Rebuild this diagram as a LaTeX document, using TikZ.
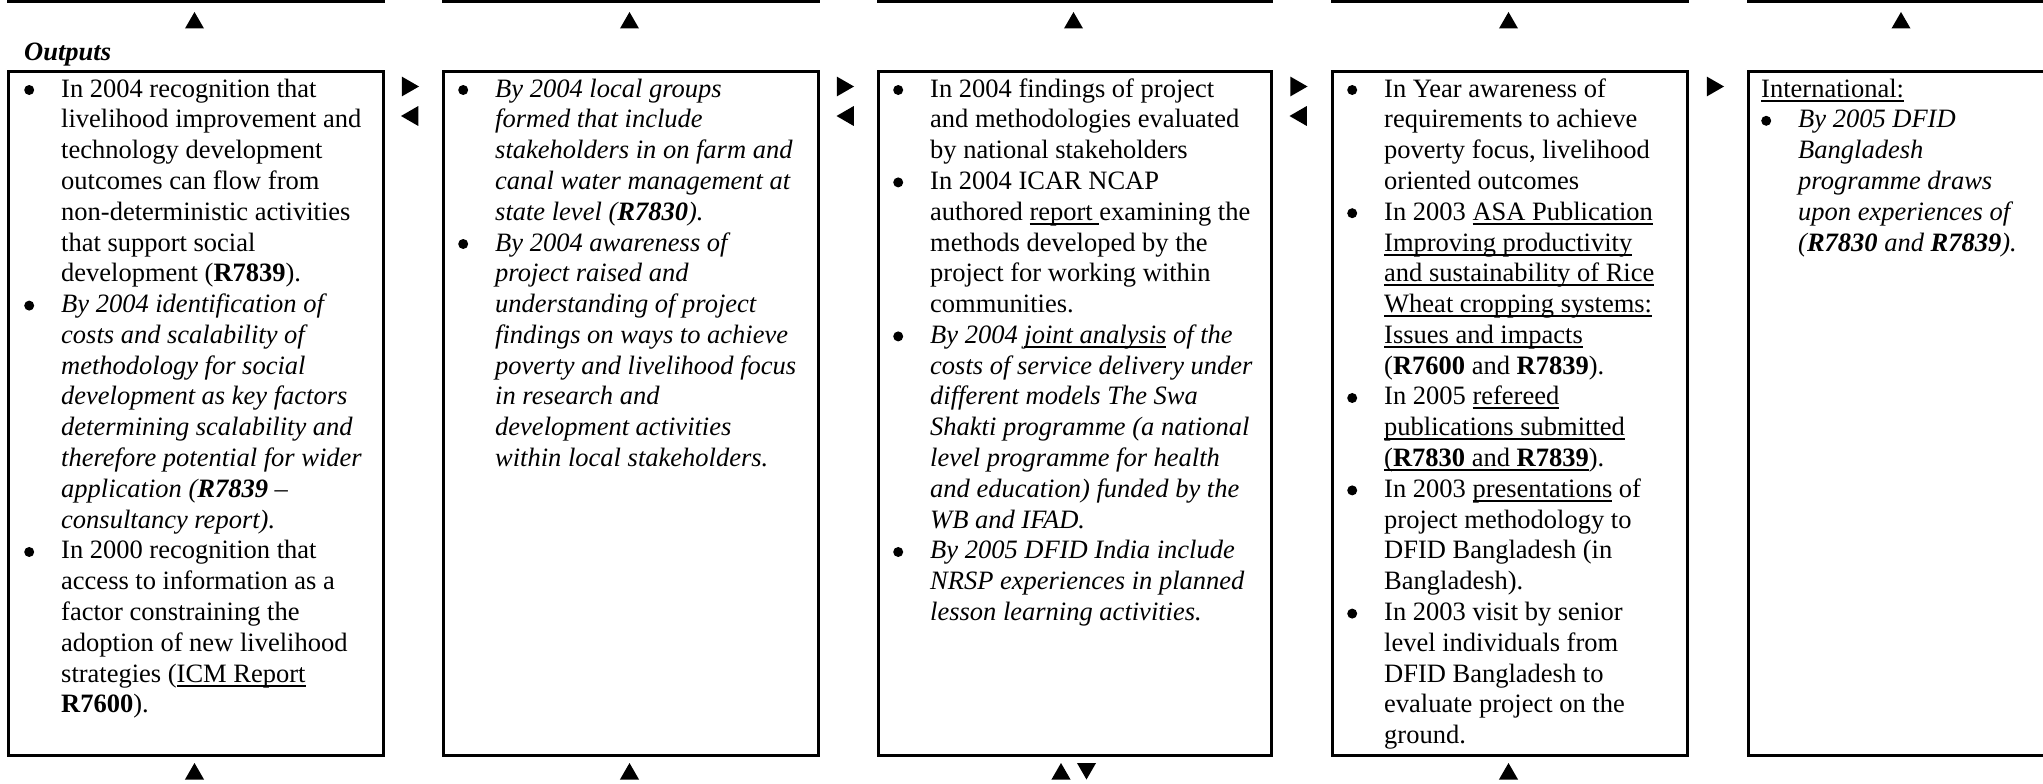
\documentclass[tikz,border=0pt]{standalone}
\usepackage{fontspec}
\setmainfont{Liberation Serif}
\usepackage{tikz}
\usetikzlibrary{shapes.geometric, positioning}
\tikzstyle{outbox} = [draw, line width=3pt, anchor=north west, minimum height=684pt, inner sep=0pt]
\tikzstyle{topbox} = [draw, line width=3pt, anchor=south west, minimum height=60pt, inner sep=0pt]
\tikzstyle{txt} = [anchor=base west, inner sep=0pt, font=\fontsize{26.5}{30.8}\selectfont]
\tikzstyle{tri} = [regular polygon, regular polygon sides=3, fill, inner sep=0pt, minimum size=22pt]
\tikzstyle{tdown} = [tri, shape border rotate=180]
\tikzstyle{tright} = [tri, minimum size=23pt, shape border rotate=-90]
\tikzstyle{tleft} = [tri, minimum size=23pt, shape border rotate=90]
\newcommand{\bul}{\tikz[x=1pt, y=1pt, baseline=0pt] \fill (5,7) circle (5);}
\newcommand{\undl}[1]{{\setbox0=\hbox{#1}\rlap{\vrule height -2.5pt depth 4.5pt width \wd0}\box0}}

\begin{document}
\begin{tikzpicture}[x=1pt, y=-1pt]
			\useasboundingbox (0,0) rectangle (2043,784);
			\clip (0,0) rectangle (2043,784);

			% boxes above (cut off)
			\node [topbox, minimum width=375pt] (prev1) at (7,3) {};
			\node [topbox, minimum width=375pt] (prev2) at (442,3) {};
			\node [topbox, minimum width=393pt] (prev3) at (877,3) {};
			\node [topbox, minimum width=355pt] (prev4) at (1331,3) {};
			\node [topbox, minimum width=309pt] (prev5) at (1747,3) {};

			\node [tri] (up1) at (194.5,23) {};
			\node [tri] (up2) at (629.5,23) {};
			\node [tri] (up3) at (1073.5,23) {};
			\node [tri] (up4) at (1508.5,23) {};
			\node [tri] (up5) at (1901,23) {};

			\node [txt, font=\fontsize{26.5}{30.8}\selectfont\bfseries\itshape] (outlab) at (24,61) {Outputs};

			% output boxes
			\node [outbox, minimum width=375pt] (out1) at (7,70) {};
			\node [outbox, minimum width=375pt] (out2) at (442,70) {};
			\node [outbox, minimum width=393pt] (out3) at (877,70) {};
			\node [outbox, minimum width=355pt] (out4) at (1331,70) {};
			\node [outbox, minimum width=309pt] (out5) at (1747,70) {};

			\node [txt] (t1) at (24,97) {\begin{tabular}[t]{@{}p{37pt}@{}l@{}}
				\bul & In 2004 recognition that\\
				& livelihood improvement and\\
				& technology development\\
				& outcomes can flow from\\
				& non-deterministic activities\\
				& that support social\\
				& development (\textbf{R7839}).\\
				\bul & \textit{By 2004 identification of}\\
				& \textit{costs and scalability of}\\
				& \textit{methodology for social}\\
				& \textit{development as key factors}\\
				& \textit{determining scalability and}\\
				& \textit{therefore potential for wider}\\
				& \textit{application (\textbf{R7839} --}\\
				& \textit{consultancy report).}\\
				\bul & In 2000 recognition that\\
				& access to information as a\\
				& factor constraining the\\
				& adoption of new livelihood\\
				& strategies (\undl{ICM Report}\\
				& \textbf{R7600}).
			\end{tabular}};

			\node [txt] (t2) at (458,97) {\begin{tabular}[t]{@{}p{37pt}@{}l@{}}
				\bul & \textit{By 2004 local groups}\\
				& \textit{formed that include}\\
				& \textit{stakeholders in on farm and}\\
				& \textit{canal water management at}\\
				& \textit{state level (\textbf{R7830}).}\\
				\bul & \textit{By 2004 awareness of}\\
				& \textit{project raised and}\\
				& \textit{understanding of project}\\
				& \textit{findings on ways to achieve}\\
				& \textit{poverty and livelihood focus}\\
				& \textit{in research and}\\
				& \textit{development activities}\\
				& \textit{within local stakeholders.}
			\end{tabular}};

			\node [txt] (t3) at (893,97) {\begin{tabular}[t]{@{}p{37pt}@{}l@{}}
				\bul & In 2004 findings of project\\
				& and methodologies evaluated\\
				& by national stakeholders\\
				\bul & In 2004 ICAR NCAP\\
				& authored \undl{report }examining the\\
				& methods developed by the\\
				& project for working within\\
				& communities.\\
				\bul & \textit{By 2004 \undl{joint analysis} of the}\\
				& \textit{costs of service delivery under}\\
				& \textit{different models The Swa}\\
				& \textit{Shakti programme (a national}\\
				& \textit{level programme for health}\\
				& \textit{and education) funded by the}\\
				& \textit{WB and IFAD.}\\
				\bul & \textit{By 2005 DFID India include}\\
				& \textit{NRSP experiences in planned}\\
				& \textit{lesson learning activities.}
			\end{tabular}};

			\node [txt] (t4) at (1347,97) {\begin{tabular}[t]{@{}p{37pt}@{}l@{}}
				\bul & In Year awareness of\\
				& requirements to achieve\\
				& poverty focus, livelihood\\
				& oriented outcomes\\
				\bul & In 2003 \undl{ASA Publication}\\
				& \undl{Improving productivity}\\
				& \undl{and sustainability of Rice}\\
				& \undl{Wheat cropping systems:}\\
				& \undl{Issues and impacts}\\
				& (\textbf{R7600} and \textbf{R7839}).\\
				\bul & In 2005 \undl{refereed}\\
				& \undl{publications submitted}\\
				& \undl{(\textbf{R7830} and \textbf{R7839}}).\\
				\bul & In 2003 \undl{presentations} of\\
				& project methodology to\\
				& DFID Bangladesh (in\\
				& Bangladesh).\\
				\bul & In 2003 visit by senior\\
				& level individuals from\\
				& DFID Bangladesh to\\
				& evaluate project on the\\
				& ground.
			\end{tabular}};

			\node [txt] (t5) at (1761,97) {\begin{tabular}[t]{@{}p{37pt}@{}l@{}}
				\multicolumn{2}{@{}l@{}}{\undl{International:}}\\
				\bul & \textit{By 2005 DFID}\\
				& \textit{Bangladesh}\\
				& \textit{programme draws}\\
				& \textit{upon experiences of}\\
				& \textit{(\textbf{R7830} and \textbf{R7839}).}
			\end{tabular}};

			% arrows between boxes
			\node [tright] (r12) at (407.5,86.5) {};
			\node [tleft] (l12) at (412.5,116) {};
			\node [tright] (r23) at (842.5,86.5) {};
			\node [tleft] (l23) at (848,116) {};
			\node [tright] (r34) at (1296,86.5) {};
			\node [tleft] (l34) at (1301,116) {};
			\node [tright] (r45) at (1712.5,86.5) {};

			% arrows below
			\node [tri] (dn1) at (194.5,774) {};
			\node [tri] (dn2) at (629.5,774) {};
			\node [tri] (dn3) at (1061,774) {};
			\node [tdown] (dn3b) at (1086.5,768.5) {};
			\node [tri] (dn4) at (1508.5,774) {};
		\end{tikzpicture}
\end{document}
